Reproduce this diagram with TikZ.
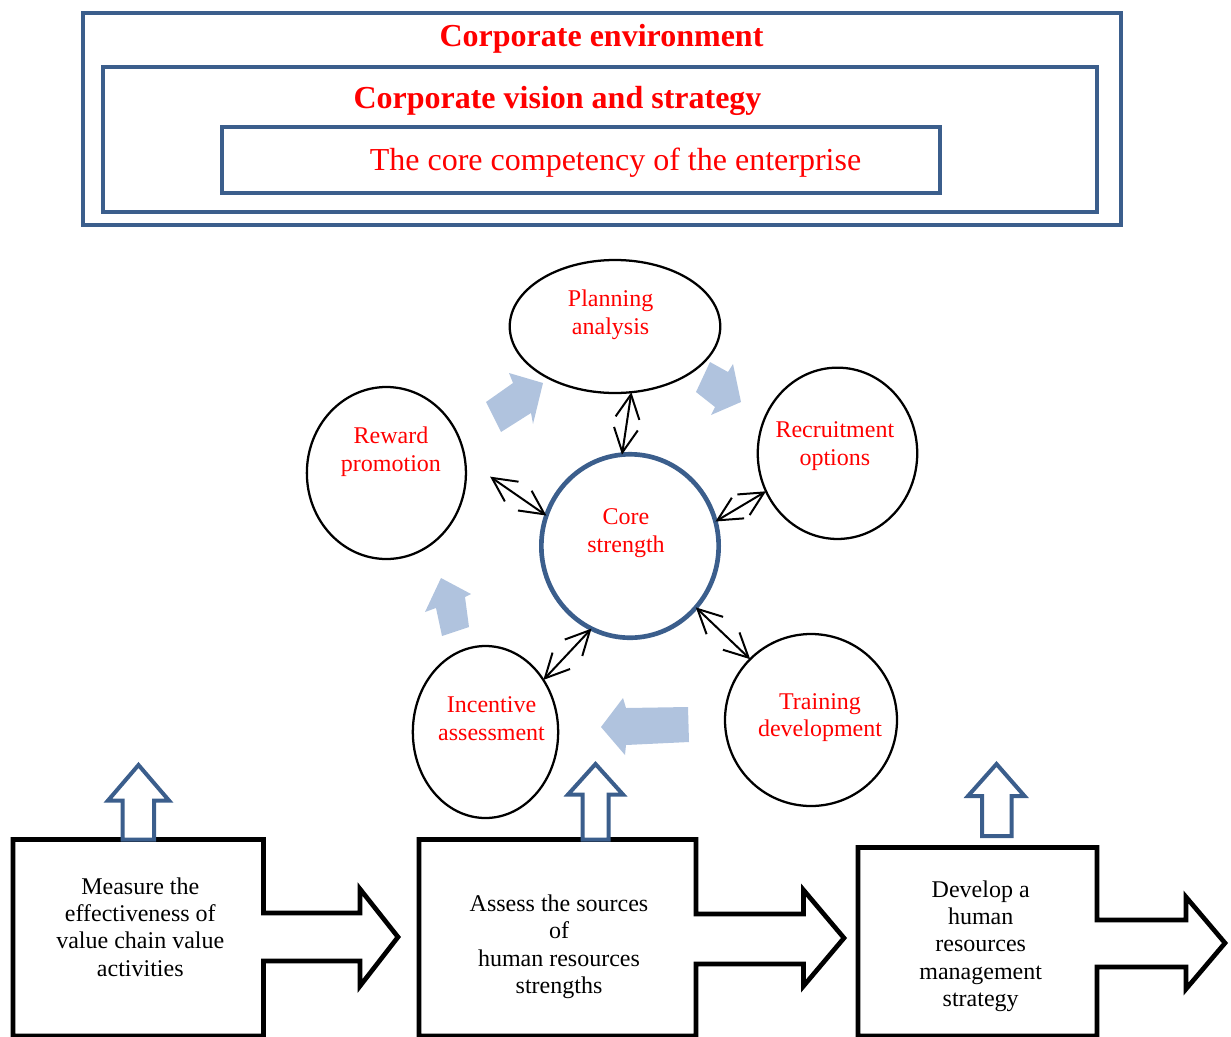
\documentclass[tikz,border=0pt]{standalone}
\usepackage{fontspec}
\setmainfont{Liberation Serif}
\usetikzlibrary{arrows.meta, positioning, shapes.geometric}
\definecolor{frameblue}{RGB}{59,94,140}
\definecolor{flowblue}{RGB}{176,195,222}

\begin{document}
\begin{tikzpicture}[
        x=0.75pt, y=-0.75pt, on grid,
        >={Straight Barb[length=18pt,width=18pt]},
        frame/.style={draw=frameblue, line width=3.6pt, inner sep=0pt, outer sep=0pt},
        title/.style={text=red, anchor=base, font=\fontsize{24}{28}\selectfont},
        oval/.style={draw, ellipse, line width=1.7pt, inner sep=0pt, outer sep=0pt},
        oval text/.style={text=red, align=center, font=\fontsize{18}{20.5}\selectfont},
        box text/.style={align=center, font=\fontsize{18}{20.5}\selectfont},
        stage/.style={draw, line width=3.5pt},
        lift/.style={draw=frameblue, fill=white, line width=3pt},
        link/.style={<->, line width=1.5pt},
        ]
        \useasboundingbox (0,0) rectangle (1231,1036);

        % nested frames
        \node[frame, minimum width=778.5pt, minimum height=159pt]   (f_env)    at (602,119)   {};
        \node[frame, minimum width=745.5pt, minimum height=108.75pt] (f_vision) at (600,139.5) {};
        \node[frame, minimum width=538.5pt, minimum height=49.5pt]  (f_core)   at (581,160)   {};
        \node[title, font=\fontsize{24}{28}\selectfont\bfseries] (t_env)    at (601.5,46)  {Corporate environment};
        \node[title, font=\fontsize{24}{28}\selectfont\bfseries] (t_vision) at (557.5,108) {Corporate vision and strategy};
        \node[title] (t_core) at (615.5,170) {The core competency of the enterprise};

        % cycle arrows
        \fill[flowblue] (486,402) -- (513,383) -- (509,373) -- (543,383) -- (533,424) -- (531,413) -- (501,432) -- cycle;
        \fill[flowblue] (696,392) -- (710,362) -- (728,372) -- (733,364) -- (741,402) -- (711,415) -- (715,407) -- cycle;
        \fill[flowblue] (601,727) -- (623,698) -- (626,708) -- (688,707) -- (689,742) -- (626,745) -- (625,755) -- cycle;
        \fill[flowblue] (441,578) -- (471,594) -- (465,597) -- (469,627) -- (442,636) -- (436,608) -- (425,612) -- cycle;

        % ellipses
        \node[oval, minimum width=157.9pt, minimum height=99.75pt] (e_plan)   at (615,326.5) {};
        \node[oval, minimum width=119.3pt, minimum height=129pt]   (e_reward) at (386.4,473) {};
        \node[oval, minimum width=119.6pt, minimum height=128.5pt] (e_recr)   at (837.5,453.3) {};
        \node[oval, minimum width=109pt,   minimum height=129pt]   (e_inc)    at (485.5,732) {};
        \node[oval, minimum width=129pt,   minimum height=129pt]   (e_train)  at (811,720) {};
        \node[oval, draw=frameblue, line width=3.5pt, minimum width=133pt, minimum height=137.6pt] (e_core) at (630,546) {};

        \node[oval text] (t_plan)   [above left=8.85pt and 3.3pt of e_plan]  {Planning\\analysis};
        \node[oval text] (t_reward) [above right=16pt and 3.4pt of e_reward] {Reward\\promotion};
        \node[oval text] (t_recr)   [above right=5.5pt and -2pt of e_recr]   {Recruitment\\options};
        \node[oval text] (t_inc)    [above right=9.9pt and 4.5pt of e_inc]   {Incentive\\assessment};
        \node[oval text] (t_train)  [above right=1.7pt and 6.75pt of e_train] {Training\\development};
        \node[oval text] (t_strength) [above left=9.6pt and 3pt of e_core]   {Core\\strength};

        \draw[link] (e_core.95)  -- (e_plan.-76);
        \draw[link] (e_core.16)  -- (e_recr.208);
        \draw[link, shorten >=23pt] (e_core.160) -- (e_reward.10);
        \draw[link] (e_core.245) -- (e_inc.42);
        \draw[link] (e_core.-43) -- (e_train.135);

        % process boxes
        \draw[stage] (13,1036) -- (13,839.5) -- (263.5,839.5) -- (263.5,913) -- (360,913) -- (360,889)
            -- (398,937) -- (360,986) -- (360,961) -- (263.5,961) -- (263.5,1036) -- cycle;
        \draw[stage] (419,1036) -- (419,839.5) -- (696,839.5) -- (696,914) -- (803.5,914) -- (803.5,890)
            -- (844,938) -- (803.5,986) -- (803.5,964) -- (696,964) -- (696,1036) -- cycle;
        \draw[stage] (858,1036) -- (858,847.5) -- (1097,847.5) -- (1097,920) -- (1186,920) -- (1186,897)
            -- (1225,943) -- (1186,989) -- (1186,967) -- (1097,967) -- (1097,1036) -- cycle;

        \draw[lift] (122.5,839.5) -- (122.5,800.5) -- (108,800.5) -- (138.5,765) -- (169,800.5) -- (154,800.5) -- (154,839.5) -- cycle;
        \draw[lift] (582.5,839.5) -- (582.5,794.5) -- (568,794.5) -- (595.5,764) -- (623,794.5) -- (608.5,794.5) -- (608.5,839.5) -- cycle;
        \draw[lift] (982,836) -- (982,796) -- (968,796) -- (996.5,764) -- (1024.5,796) -- (1011.5,796) -- (1011.5,836) -- cycle;

        \node[box text] (t_measure) at (140.3,927)   {Measure the\\effectiveness of\\value chain value\\activities};
        \node[box text] (t_assess)  at (559,946.9)   {Assess the sources\\of\\human resources\\strengths};
        \node[box text] (t_develop) at (980.7,946.1) {Develop a\\human\\resources\\management\\strategy};
\end{tikzpicture}
\end{document}
